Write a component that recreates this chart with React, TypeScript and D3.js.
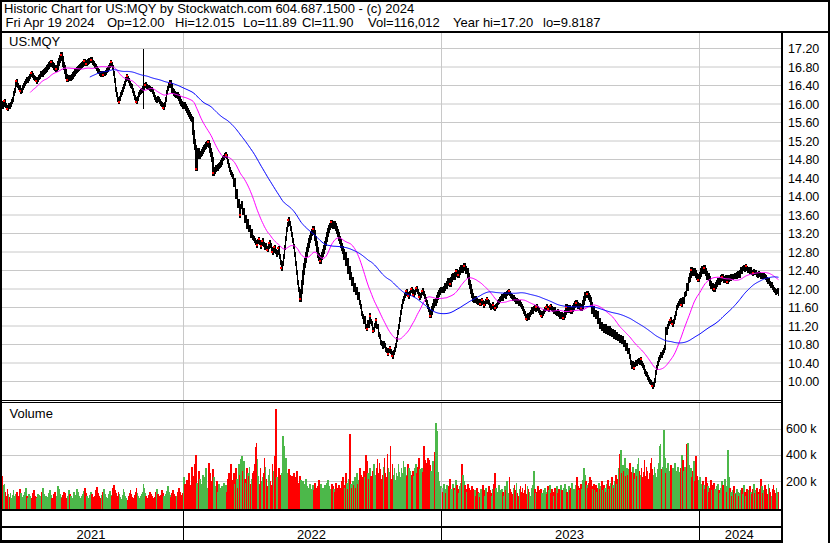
import React from "react";
import * as d3 from "d3";

// ---- daily closes (weekdays), one array per calendar year ----
const close2021 = [
  16.02, 15.95, 16.0, 16.06, 15.97, 15.92, 15.9, 15.96, 15.94, 15.99,
  16.05, 16.1, 16.22, 16.3, 16.42, 16.49, 16.4, 16.36, 16.35, 16.28,
  16.3, 16.36, 16.4, 16.45, 16.48, 16.52, 16.5, 16.56, 16.6, 16.63,
  16.67, 16.62, 16.58, 16.55, 16.52, 16.49, 16.53, 16.57, 16.6, 16.64,
  16.67, 16.64, 16.68, 16.7, 16.72, 16.75, 16.78, 16.82, 16.85, 16.88,
  16.9, 16.86, 16.83, 16.8, 16.77, 16.75, 16.8, 16.88, 16.95, 17.0,
  17.07, 16.98, 16.85, 16.78, 16.7, 16.6, 16.52, 16.55, 16.58, 16.56,
  16.58, 16.6, 16.64, 16.66, 16.7, 16.72, 16.74, 16.77, 16.79, 16.82,
  16.84, 16.85, 16.88, 16.92, 16.89, 16.87, 16.9, 16.92, 16.94, 16.95,
  16.96, 16.93, 16.9, 16.88, 16.84, 16.81, 16.76, 16.72, 16.7, 16.67,
  16.64, 16.66, 16.63, 16.65, 16.67, 16.68, 16.72, 16.75, 16.78, 16.84,
  16.9, 16.86, 16.8, 16.66, 16.5, 16.31, 16.2, 16.1, 16.05, 16.12,
  16.2, 16.25, 16.32, 16.38, 16.45, 16.52, 16.6, 16.56, 16.5, 16.44,
  16.4, 16.38, 16.3, 16.22, 16.15, 16.1, 16.05, 16.12, 16.2, 16.24,
  16.27, 16.3, 16.33, 16.35, 16.4, 16.42, 16.38, 16.36, 16.35, 16.33,
  16.32, 16.31, 16.26, 16.2, 16.15, 16.1, 16.08, 16.12, 16.1, 16.05,
  16.02, 16.0, 15.96, 15.92, 16.0, 16.1, 16.25, 16.33, 16.4, 16.44,
  16.46, 16.4, 16.3, 16.26, 16.22, 16.2, 16.18, 16.2, 16.16, 16.12,
  16.05, 16.02, 15.99, 15.95,
];
const close2022 = [
  15.99, 15.94, 15.9, 15.86, 15.82, 15.78, 15.72, 15.68, 15.66, 15.38,
  15.2, 15.05, 14.6, 14.92, 15.0, 14.86, 14.9, 14.94, 14.98, 15.02,
  15.06, 15.08, 15.12, 15.15, 15.17, 15.1, 15.0, 14.9, 14.8, 14.5,
  14.55, 14.58, 14.62, 14.6, 14.65, 14.66, 14.7, 14.74, 14.78, 14.82,
  14.85, 14.88, 14.9, 14.86, 14.76, 14.66, 14.58, 14.52, 14.48, 14.43,
  14.25, 14.35, 14.0, 14.1, 13.8, 13.9, 13.6, 13.78, 13.85, 13.65,
  13.7, 13.48, 13.55, 13.35, 13.45, 13.28, 13.32, 13.15, 13.25, 13.12,
  13.1, 13.05, 13.0, 12.95, 13.02, 13.08, 13.0, 12.92, 12.98, 13.04,
  12.96, 12.9, 12.94, 12.88, 12.85, 12.92, 13.0, 12.95, 12.86, 12.8,
  12.84, 12.9, 12.82, 12.75, 12.8, 12.88, 12.7, 12.58, 12.45, 12.55,
  12.7, 12.9, 13.1, 13.28, 13.4, 13.5, 13.42, 13.3, 13.18, 13.05,
  12.92, 12.75, 12.55, 12.35, 12.15, 12.0, 11.9, 11.78, 11.95, 12.15,
  12.35, 12.5, 12.62, 12.75, 12.85, 12.95, 13.05, 13.12, 13.2, 13.25,
  13.3, 13.22, 13.1, 12.98, 12.85, 12.72, 12.65, 12.6, 12.68, 12.75,
  12.82, 12.9, 12.98, 13.08, 13.18, 13.26, 13.32, 13.38, 13.44, 13.4,
  13.36, 13.42, 13.38, 13.3, 13.24, 13.18, 13.1, 13.02, 12.95, 12.88,
  12.82, 12.68, 12.75, 12.55, 12.62, 12.38, 12.45, 12.25, 12.32, 12.12,
  12.2, 12.0, 12.08, 11.92, 11.98, 11.82, 11.88, 11.7, 11.62, 11.48,
  11.4, 11.3, 11.36, 11.18, 11.14, 11.28, 11.22, 11.42, 11.3, 11.26,
  11.1, 11.12, 11.22, 11.32, 11.2, 11.18, 11.02, 10.98, 10.85, 10.82,
  10.75, 10.82, 10.78, 10.7, 10.66, 10.6, 10.68, 10.72, 10.65, 10.6,
  10.55, 10.62, 10.7, 10.78, 10.9, 11.05, 11.2, 11.35, 11.5, 11.62,
  11.72, 11.8, 11.86, 11.9, 11.95, 11.88, 11.84, 11.9, 11.96, 12.0,
  11.94, 11.88, 11.92, 11.98, 12.02, 11.95, 11.88, 11.82, 11.86, 11.92,
  11.96, 11.9, 11.84, 11.78, 11.7, 11.62, 11.55, 11.48, 11.42, 11.5,
  11.58, 11.65, 11.72, 11.68, 11.75, 11.82, 11.88, 11.92, 11.96, 12.0,
];
const close2023 = [
  12.0, 11.96, 12.02, 12.08, 12.05, 12.12, 12.18, 12.14, 12.1, 12.2,
  12.26, 12.3, 12.24, 12.32, 12.38, 12.34, 12.3, 12.36, 12.42, 12.46,
  12.4, 12.44, 12.5, 12.45, 12.38, 12.4, 12.3, 12.15, 12.05, 11.95,
  11.85, 11.78, 11.75, 11.8, 11.76, 11.72, 11.7, 11.74, 11.68, 11.72,
  11.76, 11.7, 11.65, 11.68, 11.72, 11.78, 11.74, 11.7, 11.64, 11.6,
  11.62, 11.66, 11.6, 11.58, 11.62, 11.65, 11.7, 11.74, 11.78, 11.8,
  11.84, 11.8, 11.86, 11.88, 11.84, 11.9, 11.92, 11.95, 11.9, 11.86,
  11.84, 11.8, 11.82, 11.78, 11.74, 11.76, 11.72, 11.68, 11.7, 11.66,
  11.62, 11.58, 11.52, 11.46, 11.4, 11.36, 11.42, 11.38, 11.44, 11.5,
  11.55, 11.52, 11.58, 11.6, 11.56, 11.62, 11.58, 11.54, 11.5, 11.46,
  11.42, 11.48, 11.52, 11.55, 11.58, 11.62, 11.58, 11.56, 11.6, 11.63,
  11.58, 11.55, 11.52, 11.56, 11.5, 11.48, 11.52, 11.46, 11.45, 11.4,
  11.44, 11.4, 11.38, 11.42, 11.5, 11.62, 11.58, 11.54, 11.6, 11.56,
  11.52, 11.56, 11.6, 11.64, 11.68, 11.7, 11.66, 11.62, 11.64, 11.6,
  11.58, 11.62, 11.7, 11.8, 11.88, 11.85, 11.9, 11.86, 11.82, 11.78,
  11.66, 11.52, 11.58, 11.44, 11.5, 11.4, 11.46, 11.3, 11.32, 11.2,
  11.24, 11.14, 11.2, 11.1, 11.18, 11.08, 11.14, 11.06, 11.14, 11.04,
  11.1, 11.02, 11.08, 10.98, 11.06, 10.96, 11.02, 10.92, 10.98, 10.88,
  10.95, 10.86, 10.92, 10.8, 10.84, 10.72, 10.78, 10.64, 10.68, 10.55,
  10.42, 10.33, 10.38, 10.3, 10.37, 10.42, 10.38, 10.44, 10.46, 10.42,
  10.48, 10.4, 10.35, 10.3, 10.22, 10.18, 10.15, 10.08, 10.04, 10.0,
  9.98, 9.94, 9.9, 9.93, 10.02, 10.19, 10.3, 10.4, 10.48, 10.52,
  10.58, 10.56, 10.62, 10.68, 10.73, 11.12, 11.05, 11.18, 11.26, 11.3,
  11.34, 11.28, 11.24, 11.3, 11.38, 11.48, 11.6, 11.64, 11.68, 11.72,
  11.75, 11.66, 11.78, 11.72, 11.88, 11.9, 12.08, 12.02, 12.18, 12.2,
  12.3, 12.42, 12.38, 12.34, 12.4, 12.36, 12.3, 12.24, 12.2, 12.26,
];
const close2024 = [
  12.32, 12.4, 12.44, 12.38, 12.46, 12.4, 12.34, 12.25, 12.3, 12.22,
  12.12, 12.05, 12.08, 12.02, 11.99, 12.06, 12.1, 12.14, 12.18, 12.15,
  12.2, 12.24, 12.27, 12.22, 12.18, 12.2, 12.24, 12.16, 12.2, 12.25,
  12.22, 12.27, 12.24, 12.28, 12.26, 12.3, 12.28, 12.31, 12.34, 12.3,
  12.36, 12.42, 12.38, 12.44, 12.46, 12.42, 12.49, 12.45, 12.4, 12.42,
  12.38, 12.42, 12.36, 12.34, 12.38, 12.35, 12.36, 12.32, 12.3, 12.33,
  12.31, 12.28, 12.3, 12.26, 12.29, 12.27, 12.24, 12.2, 12.16, 12.18,
  12.12, 12.08, 12.1, 12.03, 12.0, 11.96, 11.92, 11.94, 11.96, 11.9,
];

// ---- daily volume, thousands of shares ----
const vol2021 = [
  290, 240, 170, 180, 120, 90, 140, 100, 80, 110,
  70, 95, 130, 85, 60, 100, 120, 75, 90, 140,
  110, 80, 65, 95, 120, 150, 90, 70, 100, 85,
  60, 75, 110, 130, 90, 80, 70, 105, 95, 60,
  85, 120, 150, 100, 75, 90, 65, 80, 110, 135,
  95, 70, 60, 100, 120, 85, 90, 160, 140, 105,
  80, 70, 95, 120, 110, 75, 60, 90, 130, 100,
  85, 65, 75, 115, 95, 80, 140, 120, 90, 70,
  60, 85, 100, 125, 150, 110, 90, 75, 65, 95,
  120, 100, 80, 70, 90, 130, 155, 110, 85, 65,
  75, 95, 120, 140, 100, 80, 60, 70, 105, 125,
  95, 85, 150, 170, 130, 110, 90, 75, 120, 100,
  80, 65, 95, 140, 115, 90, 70, 60, 85, 110,
  130, 100, 80, 75, 95, 120, 145, 110, 90, 70,
  85, 100, 120, 180, 150, 110, 90, 75, 65, 95,
  120, 105, 85, 70, 60, 80, 115, 140, 100, 90,
  75, 95, 130, 110, 85, 70, 100, 125, 160, 120,
  95, 80, 110, 135, 100, 85, 70, 90, 115, 150,
  120, 95, 80, 110,
];
const vol2022 = [
  230, 180, 150, 210, 120, 260, 170, 140, 310, 200,
  240, 330, 400, 190, 160, 280, 220, 140, 180, 250,
  170, 230, 300, 150, 120, 340, 260, 200, 180, 290,
  230, 160, 140, 200, 120, 180, 150, 110, 160, 130,
  190, 140, 170, 120, 220, 260, 180, 330, 210, 150,
  260, 180, 300, 220, 150, 330, 250, 370, 390, 280,
  350, 220, 190, 300, 260, 240, 310, 180, 220, 260,
  280, 330, 460, 490, 370, 240, 180, 300, 200, 230,
  260, 380, 310, 220, 160, 250, 290, 200, 170, 330,
  280, 210, 390, 750, 230, 180, 300, 250, 200, 260,
  540, 470, 330, 380, 260, 220, 290, 250, 180, 240,
  200, 260, 150, 230, 280, 190, 170, 240, 210, 150,
  200, 130, 180, 220, 160, 120, 150, 180, 140, 110,
  170, 130, 190, 150, 120, 160, 210, 140, 180, 100,
  150, 120, 170, 130, 190, 210, 160, 140, 100, 180,
  160, 140, 120, 190, 150, 130, 170, 110, 150, 200,
  230, 170, 150, 260, 190, 140, 220, 560, 180, 150,
  200, 170, 230, 150, 260, 180, 210, 300, 250, 230,
  190, 280, 230, 400, 350, 260, 220, 300, 240, 200,
  280, 330, 250, 230, 300, 370, 260, 340, 290, 220,
  250, 310, 380, 260, 230, 410, 300, 270, 470, 220,
  330, 250, 300, 210, 260, 240, 330, 270, 230, 300,
  260, 350, 220, 310, 250, 240, 330, 300, 280, 200,
  250, 280, 240, 300, 330, 260, 310, 380, 290, 250,
  300, 270, 470, 360, 340, 240, 380, 360, 320, 280,
  260, 350, 300, 420, 640, 580, 270, 200, 140, 160,
];
const vol2023 = [
  150, 120, 180, 140, 110, 170, 130, 160, 220, 140,
  120, 180, 150, 130, 210, 170, 140, 110, 160, 190,
  330, 250, 200, 170, 140, 120, 180, 150, 110, 130,
  160, 140, 100, 130, 90, 150, 120, 110, 80, 140,
  110, 170, 130, 90, 150, 100, 120, 160, 130, 110,
  90, 140, 180, 260, 150, 120, 100, 170, 130, 110,
  140, 120, 90, 160, 130, 200, 150, 110, 230, 140,
  120, 100, 150, 170, 130, 190, 110, 90, 140, 160,
  120, 150, 110, 130, 180, 100, 160, 140, 120, 90,
  150, 130, 170, 280, 140, 110, 120, 160, 130, 100,
  140, 110, 90, 130, 150, 120, 100, 160, 130, 170,
  110, 140, 120, 90, 150, 130, 160, 110, 140, 120,
  170, 130, 100, 150, 180, 140, 120, 110, 160, 130,
  150, 190, 120, 140, 100, 170, 230, 160, 130, 150,
  180, 140, 210, 300, 250, 200, 170, 150, 190, 230,
  210, 160, 140, 180, 130, 170, 120, 150, 190, 140,
  160, 200, 130, 170, 150, 120, 180, 210, 140, 160,
  190, 230, 170, 150, 200, 250, 180, 220, 300, 410,
  440, 260, 320, 280, 380, 240, 300, 250, 290, 340,
  270, 230, 310, 260, 220, 290, 240, 330, 380, 280,
  250, 300, 230, 270, 360, 240, 310, 280, 220, 260,
  340, 380, 290, 250, 310, 260, 230, 290, 340, 470,
  480, 290, 250, 310, 590, 380, 260, 300, 340, 230,
  280, 320, 260, 300, 250, 340, 280, 230, 310, 270,
  250, 300, 400, 360, 280, 310, 250, 480, 490, 320,
  260, 300, 230, 280, 350, 200, 390, 240, 180, 210,
];
const vol2024 = [
  230, 180, 150, 200, 170, 140, 230, 190, 160, 120,
  150, 210, 130, 170, 190, 140, 120, 160, 180, 130,
  110, 150, 200, 170, 130, 220, 160, 120, 440, 230,
  150, 120, 90, 130, 160, 110, 100, 140, 120, 90,
  110, 130, 150, 100, 170, 120, 90, 140, 110, 130,
  160, 120, 100, 140, 180, 110, 130, 150, 120, 100,
  140, 220, 160, 110, 130, 170, 120, 140, 100, 180,
  150, 120, 90, 140, 170, 130, 110, 150, 120, 116,
];

const yearLabels = ["2021", "2022", "2023", "2024"];
const priceTicks = [10.0, 10.4, 10.8, 11.2, 11.6, 12.0, 12.4, 12.8, 13.2, 13.6, 14.0, 14.4, 14.8, 15.2, 15.6, 16.0, 16.4, 16.8, 17.2];
const volumeTicks = [200, 400, 600];
// one bar carried a bad print up to the year high
const outlierBars = [{ index: 143, high: 17.2, low: 15.9 }];
const maPeriods = [30, 90];

const headerTitle = "Historic Chart for US:MQY by Stockwatch.com 604.687.1500 - (c) 2024";
const headerFields = ["Fri Apr 19 2024", "Op=12.00", "Hi=12.015", "Lo=11.89", "Cl=11.90", "Vol=116,012", "Year hi=17.20", "lo=9.8187"];
const headerFieldX = [5.5, 107, 175, 243, 302, 368, 453, 543];

const W = 830;
const H = 543;
const FONT = "'Liberation Sans', Arial, sans-serif";
const GRID = "#c8c8c8";
const GREEN = "#4cb84a";
const RED = "#ff0000";
const GRAY = "#a8a8a8";
const AXIS_X = 782; // right axis line centre
const BAR_PAD = 2.5; // visual half-thickness added to each daily bar (px)

const closeSets = [close2021, close2022, close2023, close2024];
const volSets = [vol2021, vol2022, vol2023, vol2024];

function sma(arr: number[], n: number): (number | null)[] {
  return arr.map((_, i) => (i < n - 1 ? null : (d3.mean(arr.slice(i - n + 1, i + 1)) as number)));
}

export default function App() {
  const closes = closeSets.flat();
  const vols = volSets.flat();
  const N = closes.length;

  const starts: number[] = [];
  let acc = 0;
  closeSets.forEach((s) => {
    starts.push(acc);
    acc += s.length;
  });

  const x = d3.scaleLinear().domain([0, N]).range([1.5, 779.5]);
  const y = d3.scaleLinear().domain([10, 17.2]).range([381.5, 48.5]);
  const yv = d3.scaleLinear().domain([0, 600]).range([507.5, 428.6]);

  const boundaryX = starts.slice(1).map((s) => Math.round(x(s)) - 0.5);
  const sections = [0.5, ...boundaryX, AXIS_X - 1];

  const priceBars = closes.map((c, i) => {
    const prev = i > 0 ? closes[i - 1] : c;
    let top = y(Math.max(prev, c)) - BAR_PAD;
    let bot = y(Math.min(prev, c)) + BAR_PAD;
    const o = outlierBars.find((b) => b.index === i);
    if (o) {
      top = y(o.high);
      bot = y(o.low);
    }
    return { i, top, bot };
  });

  const dots: number[] = [];
  for (let i = 3; i < N - 3; i++) {
    const w = closes.slice(i - 3, i + 4);
    const mx = d3.max(w) as number;
    const mn = d3.min(w) as number;
    const c = closes[i];
    if ((c === mx && w.filter((v) => v === mx).length === 1) || (c === mn && w.filter((v) => v === mn).length === 1)) dots.push(i);
  }

  const mas = maPeriods.map((p) => sma(closes, p));
  const line = d3
    .line<number | null>()
    .defined((d) => d != null)
    .x((_, i) => x(i))
    .y((d) => y(d as number));

  return (
    <div style={{ position: "absolute", left: 0, top: 0 }}>
      <svg width={W} height={H} viewBox={`0 0 ${W} ${H}`} style={{ display: "block", background: "#fff" }} fontFamily={FONT}>
        <rect x={0} y={0} width={W} height={H} fill="#fff" />

        {/* price grid */}
        {priceTicks.map((t) => (
          <line key={"pg" + t} x1={2} x2={AXIS_X - 1} y1={y(t)} y2={y(t)} stroke={GRID} strokeWidth={1} />
        ))}
        {/* volume grid */}
        {volumeTicks.map((t) => (
          <line key={"vg" + t} x1={2} x2={AXIS_X - 1} y1={Math.round(yv(t)) + 0.5} y2={Math.round(yv(t)) + 0.5} stroke={GRID} strokeWidth={1} />
        ))}
        {/* vertical year grid */}
        {boundaryX.map((bx) => (
          <g key={"vx" + bx}>
            <line x1={bx} x2={bx} y1={33} y2={400} stroke={GRID} strokeWidth={1} />
            <line x1={bx} x2={bx} y1={403} y2={509} stroke={GRID} strokeWidth={1} />
          </g>
        ))}

        {/* volume bars */}
        <g shapeRendering="crispEdges">
          {vols.map((v, i) => {
            const prev = i > 0 ? closes[i - 1] : closes[i];
            const c = closes[i];
            const col = c > prev ? GREEN : c < prev ? RED : GRAY;
            const top = yv(v);
            return <rect key={"v" + i} x={x(i) - 0.9} width={1.8} y={top} height={509 - top} fill={col} />;
          })}
        </g>

        {/* price bars */}
        <g shapeRendering="crispEdges">
          {priceBars.map((b) => (
            <rect key={"b" + b.i} x={x(b.i) - 0.7} width={1.4} y={b.top} height={b.bot - b.top} fill="#000" />
          ))}
          {dots.map((i) => (
            <rect key={"d" + i} x={x(i) - 1} y={y(closes[i]) - 1} width={2} height={2} fill={RED} />
          ))}
        </g>

        {/* moving averages */}
        <path d={line(mas[0]) || ""} fill="none" stroke="#ff00ff" strokeWidth={1} />
        <path d={line(mas[1]) || ""} fill="none" stroke="#0000ff" strokeWidth={1} />

        {/* white cover for right axis area */}
        <rect x={AXIS_X + 1} y={33} width={W - AXIS_X - 3} height={H - 35} fill="#fff" />

        {/* structural lines */}
        <g shapeRendering="crispEdges" fill="#000">
          <rect x={0} y={31} width={W} height={2} />
          <rect x={0} y={400} width={AXIS_X} height={1} />
          <rect x={0} y={402} width={AXIS_X} height={1} />
          <rect x={0} y={509} width={AXIS_X} height={2} />
          <rect x={0} y={526} width={AXIS_X} height={2} />
          <rect x={0} y={540} width={AXIS_X} height={3} />
          <rect x={AXIS_X - 1} y={33} width={2} height={H - 33} />
          {boundaryX.map((bx) => (
            <rect key={"bs" + bx} x={bx - 0.5} y={511} width={1} height={29} />
          ))}
          <rect x={0} y={0} width={W} height={2} />
          <rect x={0} y={0} width={2} height={H} />
          <rect x={828} y={0} width={2} height={H} />
        </g>

        {/* header */}
        <text x={4} y={13} fontSize={13} fill="#000">
          {headerTitle}
        </text>
        {headerFields.map((t, k) => (
          <text key={"hf" + k} x={headerFieldX[k]} y={27} fontSize={13} fill="#000">
            {t}
          </text>
        ))}

        <text x={9} y={46} fontSize={13} fill="#000">
          US:MQY
        </text>
        <text x={9.5} y={418} fontSize={13} fill="#000">
          Volume
        </text>

        {/* price axis labels */}
        {priceTicks.map((t) => (
          <text key={"pl" + t} x={788} y={y(t) + 4.5} fontSize={12.5} fill="#000">
            {t.toFixed(2)}
          </text>
        ))}
        {volumeTicks.map((t) => (
          <text key={"vl" + t} x={786} y={yv(t) + 4.5} fontSize={12.5} fill="#000">
            {t} k
          </text>
        ))}

        {/* year labels */}
        {yearLabels.map((lab, k) => (
          <text key={lab} x={(sections[k] + sections[k + 1]) / 2 - 1} y={539} fontSize={13} textAnchor="middle" fill="#000">
            {lab}
          </text>
        ))}
      </svg>
    </div>
  );
}
